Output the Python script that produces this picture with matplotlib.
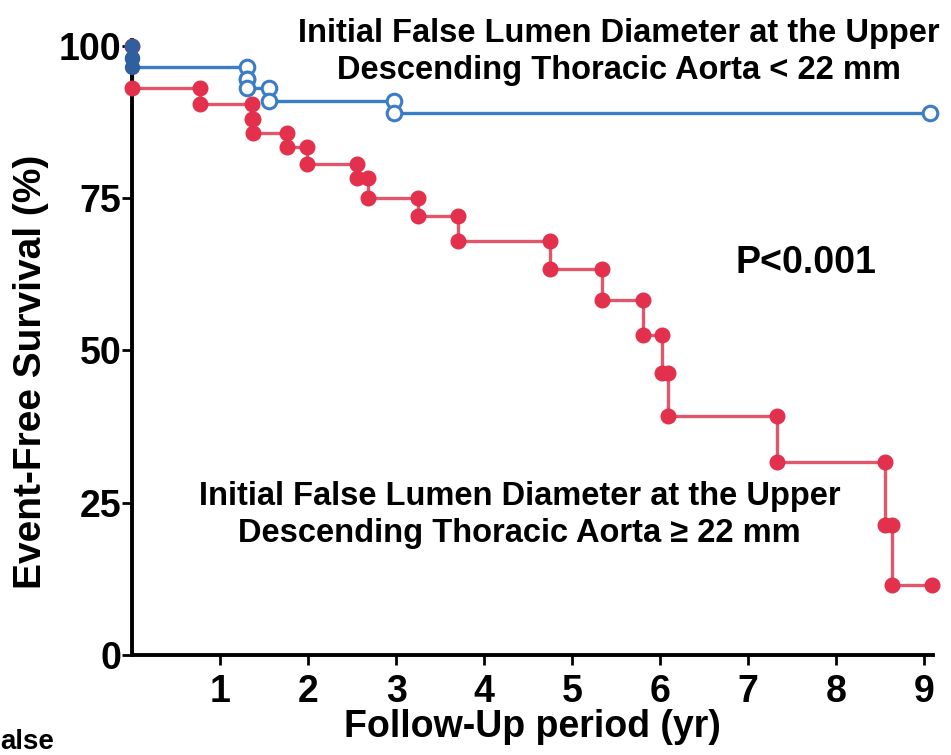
import numpy as np
import matplotlib.pyplot as plt

plt.rcParams['font.family'] = ['Liberation Sans', 'DejaVu Sans']

# Kaplan-Meier steps: event times and survival (%) after each event
small_times = [0.0, 0.0, 1.30, 1.30, 1.55, 2.97]
small_surv = [98.0, 96.5, 94.5, 93.0, 91.0, 89.0]
small_end = 9.07

large_times = [0.0, 0.77, 1.36, 1.37, 1.76, 1.99, 2.55, 2.68, 3.25, 3.70,
               4.75, 5.34, 5.80, 6.02, 6.09, 7.33, 8.56, 8.63]
large_surv = [93.0, 90.5, 88.0, 85.6, 83.3, 80.6, 78.3, 75.0, 72.1, 68.0,
              63.4, 58.2, 52.5, 46.2, 39.3, 31.6, 21.3, 11.5]
large_end = 9.09

x_ticks = [1, 2, 3, 4, 5, 6, 7, 8, 9]
y_ticks = [0, 25, 50, 75, 100]

red = '#e3304c'
red_line = '#e0566a'
blue = '#3b7cc6'


def km_points(times, surv, end):
    # step line vertices plus the points drawn at the top and bottom of each drop
    xs, ys = [0.0], [100.0]
    prev = 100.0
    mx, my = [], []
    for t, s in zip(times, surv):
        xs += [t, t]
        ys += [prev, s]
        mx += [t, t]
        my += [prev, s]
        prev = s
    xs.append(end)
    ys.append(prev)
    mx.append(end)
    my.append(prev)
    return xs, ys, mx, my


fig = plt.figure(figsize=(9.51, 7.55), dpi=100)
ax = fig.add_axes([0.139, 0.1325, 0.842, 0.815])

xs, ys, mx, my = km_points(large_times, large_surv, large_end)
ax.plot(xs, ys, color=red_line, lw=2.4, clip_on=False, zorder=2)
ax.plot(mx, my, 'o', ms=10.5, color=red, mec=red, clip_on=False, zorder=3)

xs, ys, mx, my = km_points(small_times, small_surv, small_end)
ax.plot(xs, ys, color=blue, lw=2.4, clip_on=False, zorder=4)
ax.plot(mx[:4], my[:4], 'o', ms=10, color='#2f5f9e', mec='#2f5f9e',
        clip_on=False, zorder=5)
ax.plot(mx[4:], my[4:], 'o', ms=10.5, mfc='white', mec=blue, mew=2.2,
        clip_on=False, zorder=5)

ax.set_xlim(0, 9.1)
ax.set_ylim(0, 101)
ax.set_xticks(x_ticks)
ax.set_yticks(y_ticks)
ax.tick_params(labelsize=27, width=2, length=7)
ax.tick_params(axis='x', pad=7)
ax.tick_params(axis='y', pad=1)
for lab in ax.get_xticklabels() + ax.get_yticklabels():
    lab.set_fontweight('bold')
for side in ['top', 'right']:
    ax.spines[side].set_visible(False)
for side in ['left', 'bottom']:
    ax.spines[side].set_linewidth(2.8)

ax.set_xlabel('Follow-Up period (yr)', fontsize=27, fontweight='bold')
ax.xaxis.set_label_coords(0.5, -0.088)
ax.set_ylabel('Event-Free Survival (%)', fontsize=28, fontweight='bold')
ax.yaxis.set_label_coords(-0.104, 0.46)

ax.text(5.53, 99.0, 'Initial False Lumen Diameter at the Upper\n'
        'Descending Thoracic Aorta < 22 mm', ha='center', va='center',
        fontsize=23.5, fontweight='bold', linespacing=1.25)
ax.text(7.66, 64.4, 'P<0.001', ha='center', va='center',
        fontsize=27, fontweight='bold')
ax.text(4.4, 23.0, 'Initial False Lumen Diameter at the Upper\n'
        'Descending Thoracic Aorta \u2265 22 mm', ha='center', va='center',
        fontsize=23.5, fontweight='bold', linespacing=1.25)

fig.text(0.0, 0.0, 'alse', fontsize=20, fontweight='bold', ha='left', va='bottom')

fig.savefig('out.png', dpi=100)
